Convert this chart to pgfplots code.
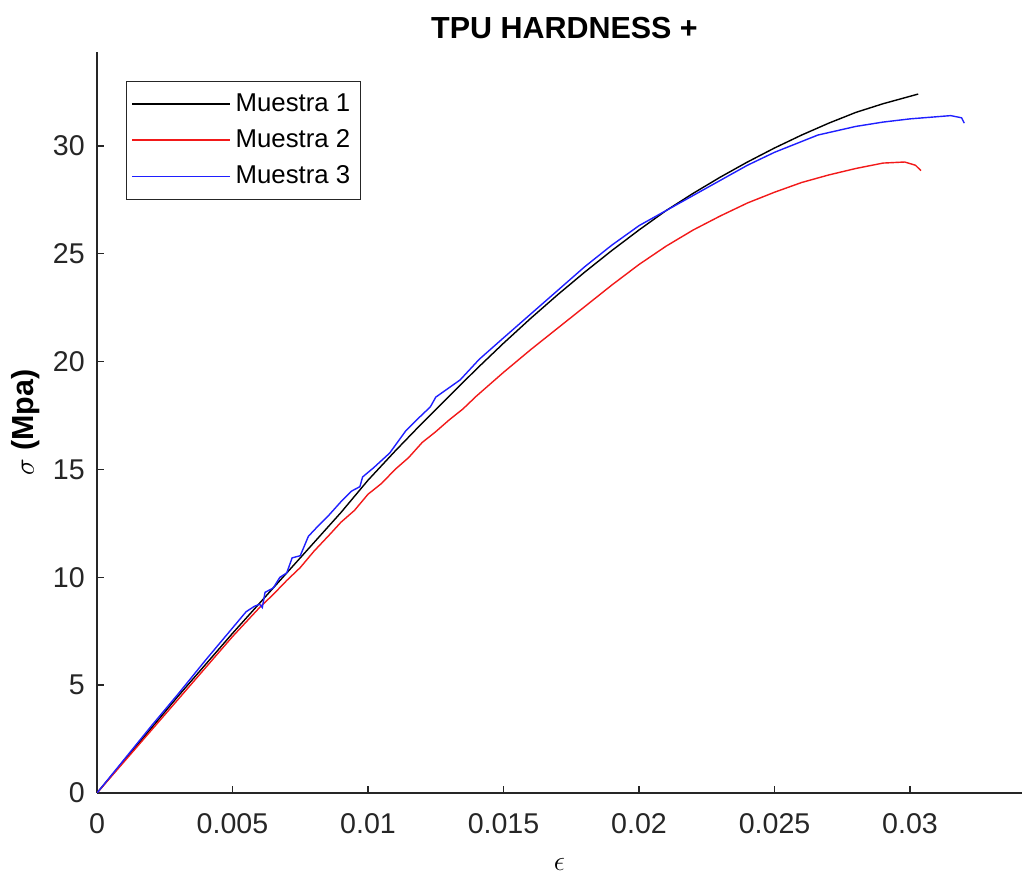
\documentclass[border=0pt]{standalone}
\usepackage{fontspec}
\setmainfont{Liberation Sans}
\usepackage{pgfplots}
\pgfplotsset{compat=1.18}

\definecolor{axgray}{rgb}{0.15,0.15,0.15}
\definecolor{mred}{rgb}{0.95,0.1,0.1}
\definecolor{mblue}{rgb}{0.12,0.12,1}

\begin{document}
\begin{tikzpicture}
\begin{axis}[
  scale only axis, width=138.75mm, height=111.15mm,
  xmin=0, xmax=0.03413, ymin=0, ymax=34.35,
  axis x line=bottom, axis y line=left,
  axis line style={-, draw=axgray, line width=0.6pt},
  tick align=inside, major tick length=1.1mm,
  tick style={axgray, line width=0.6pt},
  xtick={0,0.005,0.01,0.015,0.02,0.025,0.03},
  ytick={0,5,10,15,20,25,30},
  scaled x ticks=false,
  /pgf/number format/assume math mode=true,
  ticklabel style={font=\fontsize{12.2}{14}\selectfont, text=axgray},
  xticklabel style={/pgf/number format/fixed, /pgf/number format/precision=3, yshift=-1.9mm},
  yticklabel style={xshift=-0.6mm},
  title={\textbf{TPU HARDNESS +}},
  title style={font=\fontsize{13}{15}\selectfont, yshift=-1.4mm, xshift=0.75mm},
  xlabel={$\epsilon$},
  xlabel style={font=\fontsize{12}{14}\selectfont, yshift=-1.2mm},
  ylabel={\textbf{$\sigma$ (Mpa)}},
  ylabel style={font=\fontsize{13}{15}\selectfont, yshift=-0.5mm},
  legend style={at={(0.031,0.961)}, anchor=north west, draw=axgray, line width=0.5pt,
    font=\fontsize{11}{13}\selectfont, inner xsep=0.8mm, inner ysep=1.1mm,
    row sep=0.8mm, cells={anchor=west}},
  legend image code/.code={\path (-1.6mm,0mm) -- (13.1mm,0mm);
    \draw[#1, line width=0.6pt] (0mm,0mm) -- (12.75mm,0mm);},
]
\addplot[black, line width=0.6pt] coordinates {
 (0,0)(0.001,1.5)(0.002,3.0)(0.003,4.5)(0.004,5.95)(0.005,7.4)(0.006,8.8)
 (0.007,10.2)(0.008,11.6)(0.009,13.0)(0.010,14.5)(0.011,15.85)(0.012,17.15)
 (0.013,18.4)(0.014,19.65)(0.015,20.85)(0.016,22.0)(0.017,23.1)(0.018,24.15)
 (0.019,25.15)(0.020,26.1)(0.021,27.0)(0.022,27.8)(0.023,28.55)(0.024,29.25)
 (0.025,29.9)(0.026,30.5)(0.027,31.05)(0.028,31.55)(0.029,31.95)(0.0303,32.4)};
\addplot[mred, line width=0.6pt] coordinates {
 (0,0)(0.001,1.45)(0.002,2.9)(0.003,4.35)(0.004,5.8)(0.005,7.25)(0.006,8.6)
 (0.0065,9.2)(0.007,9.85)(0.0075,10.45)(0.008,11.2)(0.0086,12.0)(0.009,12.55)
 (0.0095,13.1)(0.010,13.85)(0.0105,14.35)(0.011,15.0)(0.0115,15.55)(0.012,16.25)
 (0.0125,16.75)(0.013,17.3)(0.0135,17.8)(0.014,18.4)(0.015,19.5)(0.016,20.55)
 (0.017,21.55)(0.018,22.55)(0.019,23.55)(0.020,24.5)(0.021,25.35)(0.022,26.1)
 (0.023,26.75)(0.024,27.35)(0.025,27.85)(0.026,28.3)(0.027,28.65)(0.028,28.95)
 (0.029,29.2)(0.0298,29.25)(0.0302,29.1)(0.0304,28.85)};
\addplot[mblue, line width=0.6pt] coordinates {
 (0,0)(0.001,1.55)(0.002,3.1)(0.003,4.6)(0.004,6.15)(0.005,7.65)(0.0055,8.4)
 (0.0058,8.65)(0.006,8.75)(0.0061,8.6)(0.0062,9.3)(0.0065,9.5)(0.00675,10.0)
 (0.0070,10.2)(0.0072,10.9)(0.0075,11.0)(0.0078,11.9)(0.0081,12.3)(0.0085,12.8)
 (0.009,13.5)(0.0094,14.0)(0.0097,14.2)(0.0098,14.65)(0.0102,15.07)(0.0108,15.76)
 (0.0114,16.8)(0.0118,17.3)(0.0123,17.9)(0.0125,18.35)(0.0134,19.15)(0.0141,20.1)
 (0.015,21.1)(0.016,22.2)(0.017,23.3)(0.018,24.4)(0.019,25.4)(0.020,26.3)
 (0.021,27.0)(0.022,27.7)(0.023,28.4)(0.024,29.1)(0.025,29.7)(0.0266,30.5)
 (0.028,30.9)(0.029,31.1)(0.030,31.25)(0.031,31.35)(0.0315,31.4)(0.0319,31.3)
 (0.0320,31.05)};
\legend{Muestra 1,Muestra 2,Muestra 3}
\coordinate (sw) at (rel axis cs:0,0);
\end{axis}
\pgfresetboundingbox
\path ([shift={(-14.55mm,-12.9mm)}]sw) rectangle ([shift={(138.9mm,118.95mm)}]sw);
\end{tikzpicture}
\end{document}
